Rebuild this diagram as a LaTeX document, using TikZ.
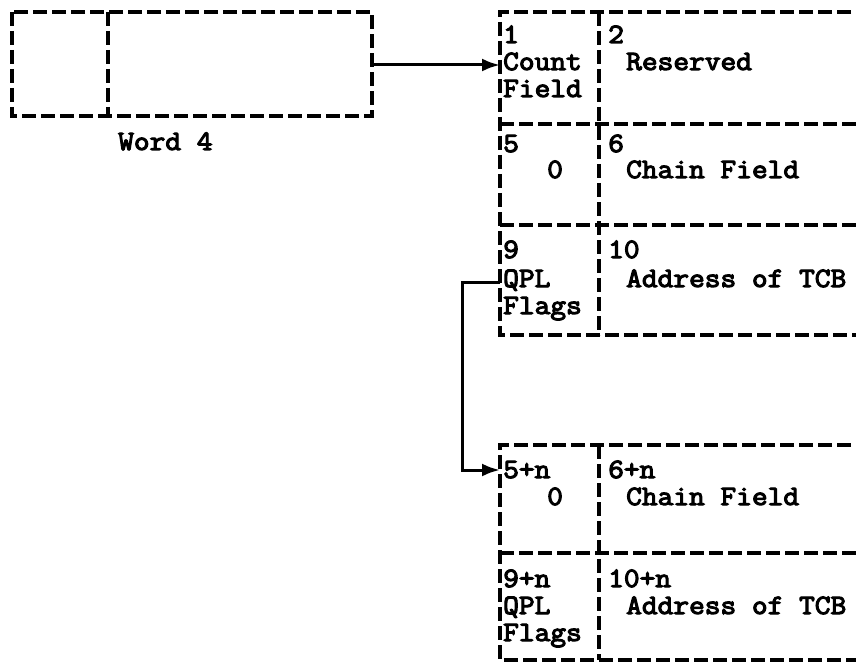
\documentclass[tikz,border=0pt]{standalone}
\usepackage{fontspec}
\newfontfamily\twfont{Latin Modern Mono}[FakeBold=4,FakeStretch=1.09]
\usetikzlibrary{arrows.meta}
\begin{document}
\begin{tikzpicture}[x=1pt,y=-1pt,
  grid/.style={line width=3.2pt,dash pattern=on 14pt off 5pt},
  conn/.style={line width=3pt,-{Latex[length=18pt,width=13pt]}},
  lbl/.style={anchor=base west,inner sep=0pt,text height=17pt,text depth=4pt,
    font=\twfont\bfseries\fontsize{28}{27}\selectfont}]
\useasboundingbox (0,0) rectangle (856,663);
\clip (0,0) rectangle (856,663);
% word 4 box
\draw[grid] (12,12) rectangle (372,116);
\draw[grid] (108,12) -- (108,116);
\node[lbl] (w4) at (118,150) {Word 4};
% upper right block
\draw[grid] (870,12) -- (500,12) -- (500,335) -- (870,335);
\draw[grid] (500,124) -- (870,124);
\draw[grid] (500,225) -- (870,225);
\draw[grid] (599,12) -- (599,335);
\node[lbl] (n1) at (503,43) {1};
\node[lbl] (cnt) at (503,70) {Count};
\node[lbl] (fld) at (503,97) {Field};
\node[lbl] (n2) at (608,43) {2};
\node[lbl] (res) at (626,70) {Reserved};
\node[lbl] (n5) at (503,152) {5};
\node[lbl] (z1) at (547,178) {0};
\node[lbl] (n6) at (608,152) {6};
\node[lbl] (ch1) at (626,178) {Chain Field};
\node[lbl] (n9) at (503,258) {9};
\node[lbl] (qpl1) at (503,287) {QPL};
\node[lbl] (fl1) at (503,314) {Flags};
\node[lbl] (n10) at (608,258) {10};
\node[lbl] (ad1) at (626,287) {Address of TCB};
% lower right block
\draw[grid] (870,445) -- (500,445) -- (500,660) -- (870,660);
\draw[grid] (500,553) -- (870,553);
\draw[grid] (599,445) -- (599,660);
\node[lbl] (n5n) at (503,478) {5+n};
\node[lbl] (z2) at (547,505) {0};
\node[lbl] (n6n) at (608,478) {6+n};
\node[lbl] (ch2) at (626,505) {Chain Field};
\node[lbl] (n9n) at (503,587) {9+n};
\node[lbl] (qpl2) at (503,614) {QPL};
\node[lbl] (fl2) at (503,641) {Flags};
\node[lbl] (n10n) at (608,587) {10+n};
\node[lbl] (ad2) at (626,614) {Address of TCB};
% connectors
\coordinate (w4e) at (372,65);
\coordinate (c1) at (500,65);
\coordinate (q9) at (500,282);
\coordinate (b5) at (500,470);
\draw[conn] (w4e) -- (c1);
\draw[conn] (q9) -- (462,282) -- (462,470) -- (b5);
\end{tikzpicture}
\end{document}
